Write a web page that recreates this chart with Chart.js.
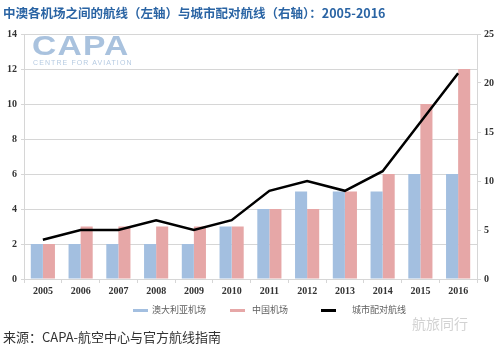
<!DOCTYPE html>
<html>
<head>
<meta charset="utf-8">
<script src="https://cdn.jsdelivr.net/npm/chart.js@4/dist/chart.umd.min.js"></script>
<style>
body{margin:0;background:#fff;}
#box{position:relative;width:500px;height:349px;overflow:hidden;font-family:"Noto Sans CJK SC","Noto Sans",sans-serif;}
#box canvas{position:absolute;left:0;top:0;}
.abs{position:absolute;white-space:nowrap;}
#title{left:3px;top:3px;font-size:12.5px;font-weight:bold;color:#2a64a4;}
#logo{left:32px;top:32px;color:#a9c2de;font-family:"Liberation Sans",Arial,sans-serif;font-weight:bold;font-size:28px;letter-spacing:1px;line-height:28px;transform:scaleX(1.2);transform-origin:0 0;}
#logo2{left:33px;top:59px;color:#b6cbe2;font-family:"Liberation Sans",Arial,sans-serif;font-size:7px;letter-spacing:1.1px;}
#legend{left:0;top:303px;width:500px;font-size:9px;color:#606060;}
.lg{position:absolute;top:0;line-height:14px;}
.sw{position:absolute;height:3px;top:6px;}
#source{left:3px;top:327px;font-size:13px;color:#333;}
#wm{left:412px;top:313px;font-size:14px;color:#d2d2d2;}
</style>
</head>
<body>
<div id="box">
<canvas id="wcds_chart" width="500" height="349"></canvas>
<div class="abs" id="title">中澳各机场之间的航线（左轴）与城市配对航线（右轴）：2005-2016</div>
<div class="abs" id="logo">CAPA</div>
<div class="abs" id="logo2">CENTRE FOR AVIATION</div>
<div class="abs" id="legend"></div>
<div class="abs" id="source">来源：CAPA-航空中心与官方航线指南</div>
<div class="abs" id="wm">航旅同行</div>
</div>
<script>
var years = ['2005','2006','2007','2008','2009','2010','2011','2012','2013','2014','2015','2016'];
var au_airports = [2,2,2,2,2,3,4,5,5,5,6,6];
var cn_airports = [2,3,3,3,3,3,4,4,5,6,10,12];
var city_pairs = [4,5,5,6,5,6,9,10,9,11,16,21];
var left_ticks = [0,2,4,6,8,10,12,14];
var right_ticks = [0,5,10,15,20,25];
var series_names = ['澳大利亚机场','中国机场','城市配对航线'];

var tick_font = {family:'"Liberation Serif", serif', size:10, weight:'bold'};
var grid_color = '#d6d6d6';

var chart_data = {
	labels: years,
	datasets: [
		{type:'bar', label:series_names[0], data:au_airports, backgroundColor:'#a3bfe0', yAxisID:'y', order:2,
			categoryPercentage:0.64, barPercentage:1},
		{type:'bar', label:series_names[1], data:cn_airports, backgroundColor:'#e6a7a7', yAxisID:'y', order:2,
			categoryPercentage:0.64, barPercentage:1},
		{type:'line', label:series_names[2], data:city_pairs, borderColor:'#000', backgroundColor:'#000', borderWidth:2.5,
			pointRadius:0, tension:0, yAxisID:'y1', order:1}
	]
};

var chart_options = {
	responsive:false,
	animation:false,
	events:[],
	layout:{padding:{top:34, bottom:48, left:0, right:0}},
	plugins:{legend:{display:false}, tooltip:{enabled:false}},
	scales:{
		x:{
			grid:{display:true, offset:true, drawOnChartArea:false, tickLength:4, color:grid_color},
			border:{color:grid_color},
			ticks:{font:tick_font, color:'#333', padding:2, maxRotation:0},
			afterFit:function(s){ s.height = 22; }
		},
		y:{
			position:'left', min:0, max:14,
			afterBuildTicks:function(s){ s.ticks = left_ticks.map(function(v){ return {value:v}; }); },
			grid:{color:grid_color, tickLength:3},
			border:{color:grid_color},
			ticks:{font:tick_font, color:'#333', padding:4},
			afterFit:function(s){ s.width = 24; }
		},
		y1:{
			position:'right', min:0, max:25,
			afterBuildTicks:function(s){ s.ticks = right_ticks.map(function(v){ return {value:v}; }); },
			grid:{drawOnChartArea:false, color:grid_color, tickLength:4},
			border:{color:grid_color},
			ticks:{font:tick_font, color:'#333', padding:3},
			afterFit:function(s){ s.width = 23; }
		}
	}
};

var ctx = document.getElementById('wcds_chart').getContext('2d');
var myChart = new Chart(ctx, {data:chart_data, options:chart_options});

// legend
var legend_pos = [{sw:133, tx:152}, {sw:230, tx:252}, {sw:321, tx:352}];
var legend_box = document.getElementById('legend');
myChart.data.datasets.forEach(function(ds, i)
{
	var p = legend_pos[i];
	legend_box.innerHTML += '<div class="sw" style="left:'+p.sw+'px;width:15px;background:'+ds.backgroundColor+'"></div>'+
		'<div class="lg" style="left:'+p.tx+'px">'+ds.label+'</div>';
});
</script>
</body>
</html>
